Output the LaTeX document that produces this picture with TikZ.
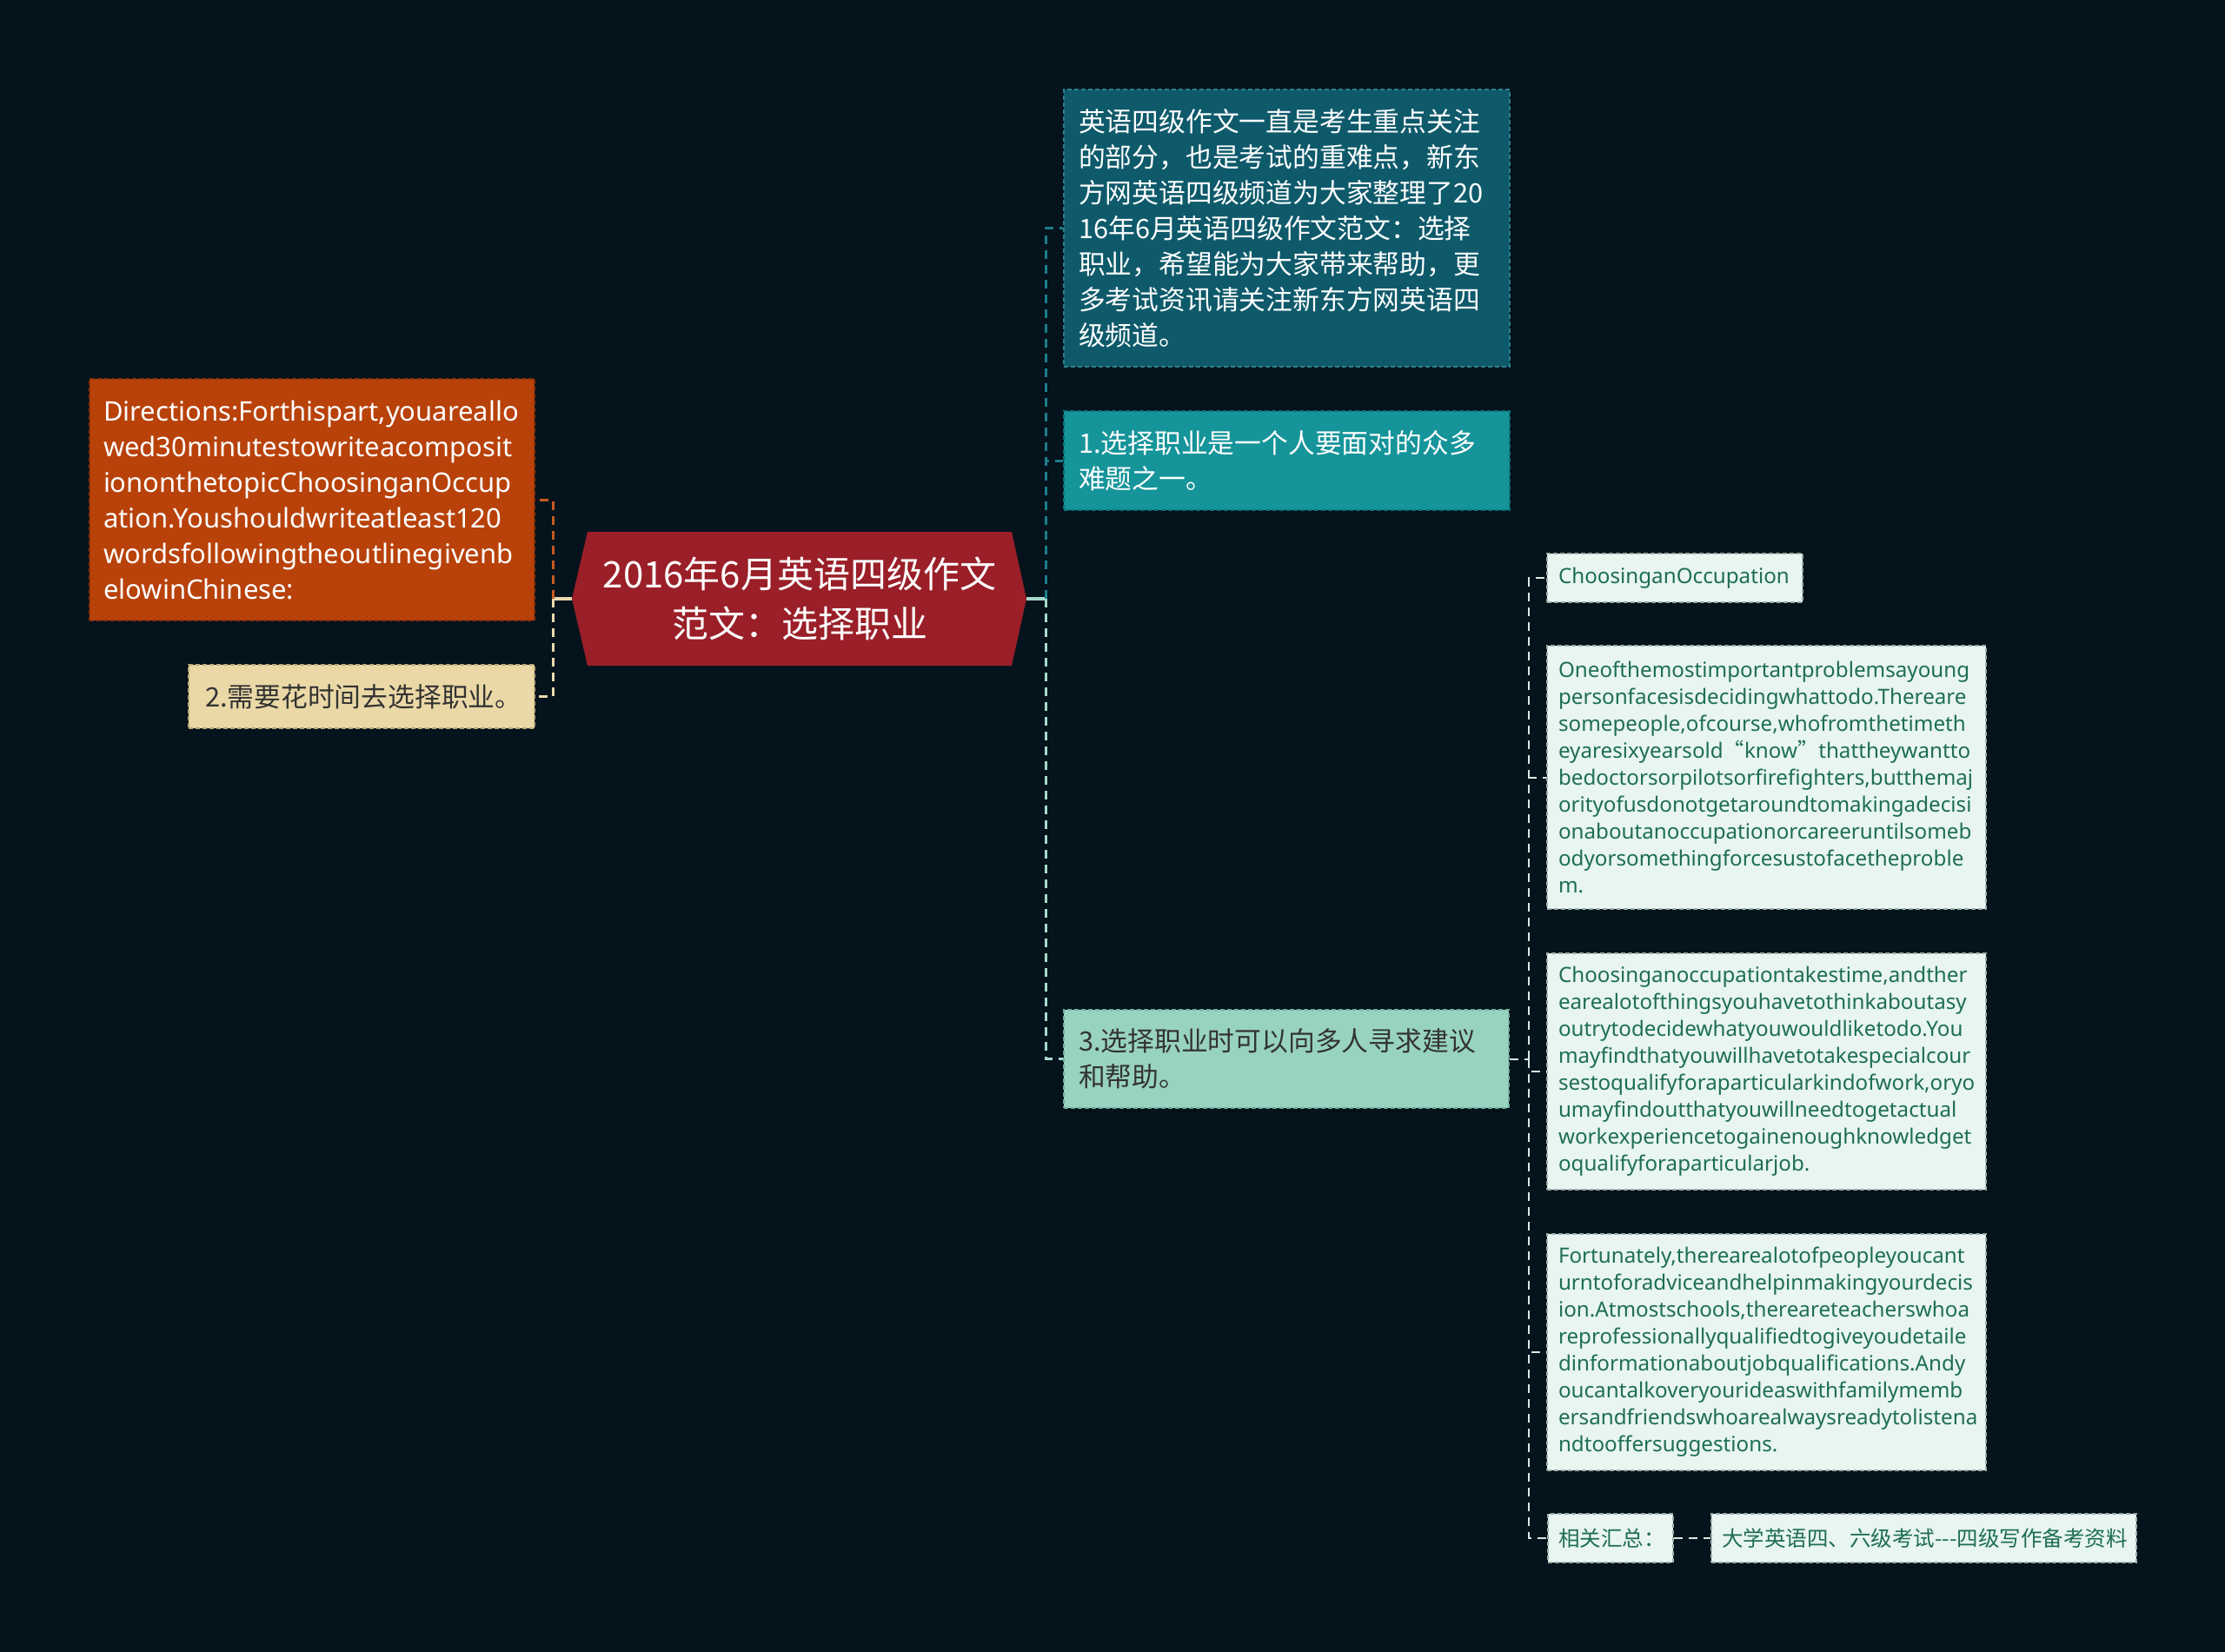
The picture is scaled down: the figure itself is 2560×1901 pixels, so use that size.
\documentclass[tikz,border=0pt]{standalone}
\usepackage{fontspec}
\setmainfont{Noto Sans}
\newfontfamily\cjk{Noto Sans CJK SC}
\hyphenpenalty=10000
\exhyphenpenalty=10000
\definecolor{bg}{HTML}{04131C}
\definecolor{orangeF}{HTML}{B8420A}
\definecolor{orangeD}{HTML}{8E3005}
\definecolor{redF}{HTML}{9A1F28}
\definecolor{yellowF}{HTML}{EAD8A6}
\definecolor{yellowD}{HTML}{B8A878}
\definecolor{tealoneF}{HTML}{0E5A6B}
\definecolor{tealoneD}{HTML}{2D7F8E}
\definecolor{tealtwoF}{HTML}{15949A}
\definecolor{tealtwoD}{HTML}{0E6F75}
\definecolor{mintF}{HTML}{98D3C0}
\definecolor{mintD}{HTML}{6FAF9B}
\definecolor{lightF}{HTML}{E8F5F0}
\definecolor{lightD}{HTML}{98B0A8}
\definecolor{greenT}{HTML}{1E6E52}
\definecolor{darkT}{HTML}{333333}
\definecolor{connOr}{HTML}{C65A1E}
\definecolor{connCream}{HTML}{E9DAAE}
\definecolor{connTeal}{HTML}{1B7E8B}
\definecolor{connMint}{HTML}{A6D9C9}
\definecolor{connWhite}{HTML}{D6EBE4}
\tikzset{
  boxbase/.style={rectangle, anchor=center, align=left, line width=0.8pt,
    dash pattern=on 2.5pt off 1.5pt, inner ysep=0pt},
  cjkbig/.style={font=\cjk\fontsize{15.4}{20.5}\selectfont},
  latbig/.style={font=\fontsize{15.5}{20.5}\selectfont},
  para/.style={font=\fontsize{12.1}{15.5}\selectfont, text=greenT},
  cjksmall/.style={font=\cjk\fontsize{12.25}{15.5}\selectfont, text=greenT},
  lightbox/.style={boxbase, fill=lightF, draw=lightD, inner xsep=6.5pt},
  conn/.style={line width=1.5pt, dash pattern=on 5pt off 3.5pt},
  connthin/.style={line width=1pt, dash pattern=on 5pt off 3.5pt, color=connWhite},
  solidconn/.style={line width=2pt}
}
\begin{document}
\begin{tikzpicture}[x=0.5pt,y=-0.5pt]
\useasboundingbox (0,0) rectangle (2560,1901);
\fill[bg] (0,0) rectangle (2560,1901);

% central hexagon
\coordinate (hexL) at (658,689);
\coordinate (hexR) at (1181,689);
\fill[redF] (hexL) -- (676,612) -- (1164,612) -- (hexR) -- (1164,766) -- (676,766) -- cycle;
\node[align=center, text=white, font=\cjk\fontsize{21}{28.5}\selectfont] (title) at (920,689)
  {2016年6月英语四级作文\\范文：选择职业};

% left side
\node[boxbase, latbig, fill=orangeF, draw=orangeD, text=white, inner xsep=8pt,
  text width=240pt, minimum width=256pt, minimum height=139pt] (orange) at (359,575)
  {Directions:Forthispart,youareallo\\wed30minutestowriteacomposit\\iononthetopicChoosinganOccup\\ation.Youshouldwriteatleast120\\wordsfollowingtheoutlinegivenb\\elowinChinese:};
\node[boxbase, cjkbig, fill=yellowF, draw=yellowD, text=darkT, inner xsep=9.5pt,
  text width=180pt, minimum width=199pt, minimum height=36.5pt] (yellow) at (416,801.5)
  {2.需要花时间去选择职业。};

% right side first level
\node[boxbase, cjkbig, fill=tealoneF, draw=tealoneD, text=white, inner xsep=8.5pt,
  text width=239.5pt, minimum width=256.5pt, minimum height=159.5pt] (tealone) at (1480.5,262.5)
  {英语四级作文一直是考生重点关注\\的部分，也是考试的重难点，新东\\方网英语四级频道为大家整理了20\\16年6月英语四级作文范文：选择\\职业，希望能为大家带来帮助，更\\多考试资讯请关注新东方网英语四\\级频道。};
\node[boxbase, cjkbig, fill=tealtwoF, draw=tealtwoD, text=white, inner xsep=8.5pt,
  text width=239.5pt, minimum width=256.5pt, minimum height=57pt] (tealtwo) at (1480.5,530)
  {1.选择职业是一个人要面对的众多\\难题之一。};
\node[boxbase, cjkbig, fill=mintF, draw=mintD, text=darkT, inner xsep=8.5pt,
  text width=239pt, minimum width=256pt, minimum height=56.5pt] (mint) at (1480,1218.5)
  {3.选择职业时可以向多人寻求建议\\和帮助。};

% second level
\node[lightbox, para, text width=134pt, minimum width=147pt, minimum height=28pt] (choose) at (1927,665)
  {ChoosinganOccupation};
\node[lightbox, para, text width=239.5pt, minimum width=252.5pt, minimum height=151.5pt] (pone) at (2032.5,894.5)
  {Oneofthemostimportantproblemsayoung\\personfacesisdecidingwhattodo.Thereare\\somepeople,ofcourse,whofromthetimeth\\eyaresixyearsold{\cjk “}know{\cjk ”}thattheywantto\\bedoctorsorpilotsorfirefighters,butthemaj\\orityofusdonotgetaroundtomakingadecisi\\onaboutanoccupationorcareeruntilsomeb\\odyorsomethingforcesustofacetheproble\\m.};
\node[lightbox, para, text width=239.5pt, minimum width=252.5pt, minimum height=136pt] (ptwo) at (2032.5,1233)
  {Choosinganoccupationtakestime,andther\\earealotofthingsyouhavetothinkaboutasy\\outrytodecidewhatyouwouldliketodo.You\\mayfindthatyouwillhavetotakespecialcour\\sestoqualifyforaparticularkindofwork,oryo\\umayfindoutthatyouwillneedtogetactual\\workexperiencetogainenoughknowledget\\oqualifyforaparticularjob.};
\node[lightbox, para, text width=239.5pt, minimum width=252.5pt, minimum height=136pt] (pthree) at (2032.5,1556)
  {Fortunately,therearealotofpeopleyoucant\\urntoforadviceandhelpinmakingyourdecis\\ion.Atmostschools,thereareteacherswhoa\\reprofessionallyqualifiedtogiveyoudetaile\\dinformationaboutjobqualifications.Andy\\oucantalkoveryourideaswithfamilymemb\\ersandfriendswhoarealwaysreadytolistena\\ndtooffersuggestions.};
\node[lightbox, cjksmall, inner xsep=6pt, text width=60pt, minimum width=72pt, minimum height=28pt] (rel) at (1853,1770)
  {相关汇总：};
\node[lightbox, cjksmall, inner xsep=6pt, text width=232.5pt, minimum width=244.5pt, minimum height=28pt] (dx) at (2213.5,1770)
  {大学英语四、六级考试---四级写作备考资料};

% connectors
\coordinate (jl) at (636,689);
\coordinate (jr) at (1203,689);
\coordinate (jt) at (1759,1218.5);
\draw[solidconn, connCream] (hexL) -- (jl);
\draw[conn, connOr] (jl) |- (orange.east);
\draw[conn, connCream] (jl) |- (yellow.east);
\draw[solidconn, connMint] (hexR) -- (jr);
\draw[conn, connTeal] (jr) |- (tealone.west);
\draw[conn, connTeal] (jr) |- (tealtwo.west);
\draw[conn, connMint] (jr) |- (mint.west);
\draw[connthin] (mint.east) -- (jt);
\draw[connthin] (jt) |- (choose.west);
\draw[connthin] (jt) |- (pone.west);
\draw[connthin] (jt) |- (ptwo.west);
\draw[connthin] (jt) |- (pthree.west);
\draw[connthin] (jt) |- (rel.west);
\draw[connthin] (rel.east) -- (dx.west);
\end{tikzpicture}
\end{document}
